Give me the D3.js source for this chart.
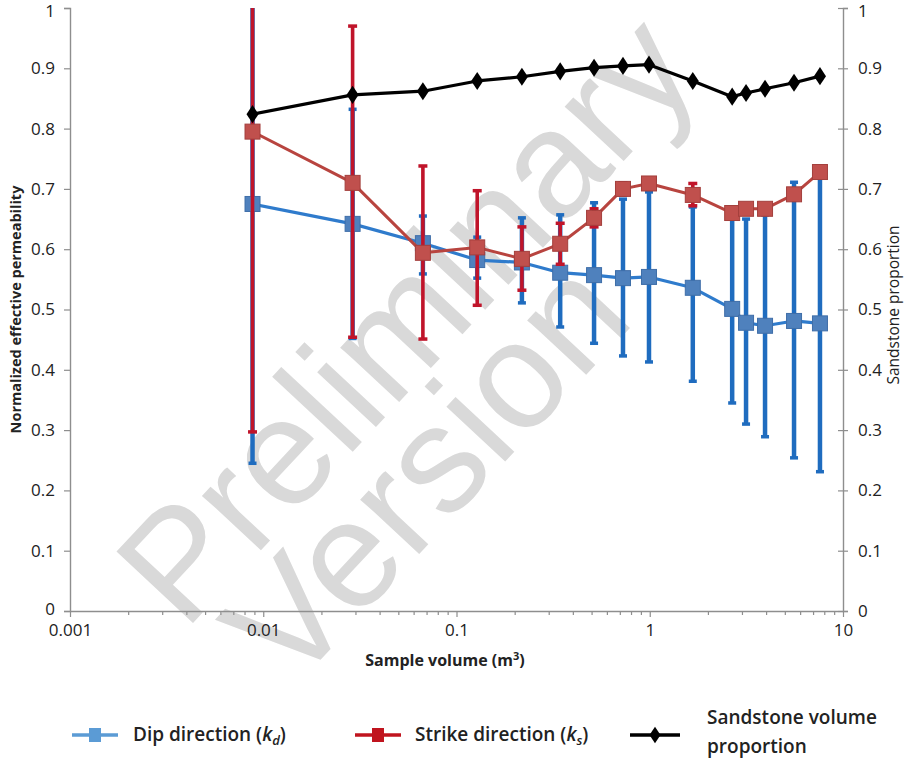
<!DOCTYPE html>
<html>
<head>
<meta charset="utf-8">
<script src="https://cdn.jsdelivr.net/npm/d3@7"></script>
<style>
  html, body { margin: 0; padding: 0; background: #fff; }
  svg { display: block; }
  text { font-family: "Open Sans", "Noto Sans", sans-serif; fill: #222; }
</style>
</head>
<body>
<svg id="chart" width="908" height="758"></svg>
<script>
// Sample volumes (m^3)
const volumes = [0.0088, 0.029, 0.067, 0.128, 0.218, 0.344, 0.515, 0.727, 0.991, 1.67, 2.67, 3.15, 3.95, 5.58, 7.6];

// Dip direction (k_d): mean and error-bar limits
const dipMean  = [0.675, 0.642, 0.610, 0.582, 0.578, 0.561, 0.557, 0.552, 0.554, 0.536, 0.501, 0.478, 0.473, 0.481, 0.477];
const dipUpper = [1.105, 0.832, 0.655, 0.620, 0.652, 0.657, 0.677, 0.683, 0.695, 0.670, 0.657, 0.650, 0.657, 0.711, 0.723];
const dipLower = [0.245, 0.452, 0.559, 0.552, 0.511, 0.471, 0.444, 0.423, 0.413, 0.381, 0.345, 0.310, 0.289, 0.254, 0.231];

// Strike direction (k_s): mean and error-bar limits
const strikeMean  = [0.795, 0.710, 0.594, 0.603, 0.584, 0.609, 0.652, 0.700, 0.709, 0.690, 0.660, 0.667, 0.667, 0.691, 0.728];
const strikeUpper = [1.293, 0.970, 0.738, 0.697, 0.637, 0.643, 0.667, 0.710, 0.718, 0.709, 0.668, 0.675, 0.675, 0.699, 0.736];
const strikeLower = [0.297, 0.454, 0.451, 0.507, 0.532, 0.575, 0.637, 0.690, 0.700, 0.672, 0.652, 0.659, 0.659, 0.683, 0.720];

// Sandstone volume proportion (right axis)
const sandstone = [0.824, 0.856, 0.862, 0.879, 0.886, 0.895, 0.901, 0.904, 0.906, 0.879, 0.853, 0.859, 0.866, 0.876, 0.887];

// Axis ticks
const xTickValues = [0.001, 0.01, 0.1, 1, 10];
const xTickLabels = ["0.001", "0.01", "0.1", "1", "10"];
const yTickValues = [0, 0.1, 0.2, 0.3, 0.4, 0.5, 0.6, 0.7, 0.8, 0.9, 1];
const yTickLabels = ["0", "0.1", "0.2", "0.3", "0.4", "0.5", "0.6", "0.7", "0.8", "0.9", "1"];

const svg = d3.select("#chart");
const L = 70, R = 843, T = 8, B = 611;

const x = d3.scaleLog().domain([0.001, 10]).range([L, R]);
const y = d3.scaleLinear().domain([0, 1]).range([B, T]);
const y2 = d3.scaleLinear().domain([0, 1]).range([B, T]);

const axisColor = "#8e8e8e";
const tickFont = "17px";

// Watermark
const wm = svg.append("g");
[["Preliminary", 405, 318], ["Version", 425, 470]].forEach(([word, cx, cy]) => {
  wm.append("text")
    .attr("transform", `translate(${cx},${cy}) rotate(-47)`)
    .attr("text-anchor", "middle").attr("dominant-baseline", "central")
    .style("font-family", "'Liberation Sans', Arial, sans-serif")
    .style("fill", "#d9d9d9").style("font-size", "152px")
    .text(word);
});

// Left axis
const yAxisL = d3.axisLeft(y).tickValues(yTickValues)
  .tickFormat((d, i) => yTickLabels[i]).tickSize(6).tickPadding(9);
const gL = svg.append("g").attr("transform", `translate(${L},0)`).call(yAxisL);
gL.select(".domain").attr("stroke", axisColor).attr("stroke-width", 1.4);
gL.selectAll(".tick line").attr("stroke", axisColor).attr("stroke-width", 1.2);
gL.selectAll(".tick text").style("font-size", tickFont).attr("fill", "#222");
gL.selectAll(".tick text").filter(d => d === 1).attr("dy", "0.5em");
gL.selectAll(".tick text").filter(d => d === 0).attr("dy", "0.22em");

// Right axis (ticks cross the axis line)
const yAxisR = d3.axisRight(y2).tickValues(yTickValues)
  .tickFormat((d, i) => yTickLabels[i]).tickSize(5).tickPadding(10);
const gR = svg.append("g").attr("transform", `translate(${R},0)`).call(yAxisR);
gR.select(".domain").attr("stroke", axisColor).attr("stroke-width", 1.4);
gR.selectAll(".tick line").attr("stroke", axisColor).attr("stroke-width", 1.2).attr("x1", -5);
gR.selectAll(".tick text").style("font-size", tickFont).attr("fill", "#222");
gR.selectAll(".tick text").filter(d => d === 1).attr("dy", "0.5em");

// Bottom axis: log scale, major decades with minor ticks
const minorTicks = [];
for (let e = -3; e < 1; e++) {
  for (let m = 2; m <= 9; m++) minorTicks.push(m * Math.pow(10, e));
}
const xAxisMinor = d3.axisBottom(x).tickValues(minorTicks).tickFormat("").tickSize(4).tickSizeOuter(0);
const gXm = svg.append("g").attr("transform", `translate(0,${B})`).call(xAxisMinor);
gXm.select(".domain").remove();
gXm.selectAll(".tick line").attr("stroke", axisColor).attr("stroke-width", 1.2);

const xAxis = d3.axisBottom(x).tickValues(xTickValues)
  .tickFormat((d, i) => xTickLabels[i]).tickSize(6).tickSizeOuter(0).tickPadding(7);
const gX = svg.append("g").attr("transform", `translate(0,${B})`).call(xAxis);
gX.select(".domain").attr("stroke", axisColor).attr("stroke-width", 1.4);
gX.selectAll(".tick line").attr("stroke", axisColor).attr("stroke-width", 1.2);
gX.selectAll(".tick text").style("font-size", tickFont).attr("fill", "#222");

// Axis titles
svg.append("text")
  .attr("transform", `translate(15,${(T + B) / 2}) rotate(-90)`)
  .attr("text-anchor", "middle").attr("dominant-baseline", "central")
  .style("font-size", "14.5px").style("font-weight", "700")
  .text("Normalized effective permeability");

svg.append("text")
  .attr("transform", `translate(893,305) rotate(-90)`)
  .attr("text-anchor", "middle").attr("dominant-baseline", "central")
  .style("font-size", "15.5px")
  .text("Sandstone proportion");

const xt = svg.append("text")
  .attr("x", 445).attr("y", 666).attr("text-anchor", "middle")
  .style("font-size", "16px").style("font-weight", "700");
xt.append("tspan").text("Sample volume (m");
xt.append("tspan").attr("dy", -6).style("font-size", "11px").text("3");
xt.append("tspan").attr("dy", 6).text(")");

// Plot layers
const plot = svg.append("g");
const clipTop = v => Math.min(v, 1);

function errorBars(g, lo, hi, color, width, capW, capH) {
  const eg = g.append("g");
  volumes.forEach((v, i) => {
    const cx = x(v);
    eg.append("line")
      .attr("x1", cx).attr("x2", cx)
      .attr("y1", y(clipTop(hi[i]))).attr("y2", y(lo[i]))
      .attr("stroke", color).attr("stroke-width", width);
    [lo[i], hi[i]].forEach(val => {
      if (val <= 1) {
        eg.append("rect")
          .attr("x", cx - capW / 2).attr("y", y(val) - capH / 2)
          .attr("width", capW).attr("height", capH)
          .attr("fill", color);
      }
    });
  });
}

function seriesLine(g, vals, color, width, scale) {
  g.append("path")
    .datum(vals)
    .attr("fill", "none").attr("stroke", color).attr("stroke-width", width)
    .attr("stroke-linejoin", "round")
    .attr("d", d3.line().x((d, i) => x(volumes[i])).y(d => scale(d)));
}

function squares(g, vals, fill, stroke, size) {
  g.selectAll(null).data(vals).enter().append("rect")
    .attr("x", (d, i) => x(volumes[i]) - size / 2)
    .attr("y", d => y(d) - size / 2)
    .attr("width", size).attr("height", size)
    .attr("fill", fill).attr("stroke", stroke).attr("stroke-width", 1);
}

// Dip direction
errorBars(plot, dipLower, dipUpper, "#1f6cbf", 4.5, 8, 3.5);
seriesLine(plot, dipMean, "#2f7bcc", 3.2, y);
squares(plot, dipMean, "#4f81bd", "#3f6ea8", 15);

// Strike direction
errorBars(plot, strikeLower, strikeUpper, "#c0142a", 3.6, 9, 3.5);
seriesLine(plot, strikeMean, "#b8443f", 3, y);
squares(plot, strikeMean, "#c0504d", "#a33f3c", 15);

// Sandstone proportion
seriesLine(plot, sandstone, "#000", 3.2, y2);
const diamond = d3.symbol().type(d3.symbolDiamond).size(95);
plot.selectAll(null).data(sandstone).enter().append("path")
  .attr("d", diamond)
  .attr("transform", (d, i) => `translate(${x(volumes[i])},${y2(d)}) scale(1.15,1)`)
  .attr("fill", "#000");

// Legend
const leg = svg.append("g");
const legY = 735;
const legFont = "19px";
function legendLine(x0, x1, color) {
  leg.append("line").attr("x1", x0).attr("x2", x1).attr("y1", legY).attr("y2", legY)
    .attr("stroke", color).attr("stroke-width", 3.5);
}
legendLine(72, 118, "#5b9bd5");
leg.append("rect").attr("x", 89).attr("y", legY - 7).attr("width", 12).attr("height", 14).attr("fill", "#5b9bd5");
legendLine(355, 401, "#c0141e");
leg.append("rect").attr("x", 372).attr("y", legY - 7).attr("width", 12).attr("height", 14).attr("fill", "#c0141e");
legendLine(630, 680, "#000");
leg.append("path").attr("d", d3.symbol().type(d3.symbolDiamond).size(80)())
  .attr("transform", `translate(655,${legY}) scale(1.15,1)`).attr("fill", "#000");

function legendLabel(x0, main, sub) {
  const t = leg.append("text").attr("x", x0).attr("y", legY + 6)
    .style("font-size", legFont).style("font-weight", "600");
  t.append("tspan").text(main + " (");
  t.append("tspan").style("font-style", "italic").text("k");
  t.append("tspan").attr("dy", 4).style("font-size", "13px").style("font-style", "italic").text(sub);
  t.append("tspan").attr("dy", -4).text(")");
}
legendLabel(133, "Dip direction", "d");
legendLabel(415, "Strike direction", "s");
leg.append("text").attr("x", 707).attr("y", 724)
  .style("font-size", legFont).style("font-weight", "600").text("Sandstone volume");
leg.append("text").attr("x", 707).attr("y", 753)
  .style("font-size", legFont).style("font-weight", "600").text("proportion");
</script>
</body>
</html>
